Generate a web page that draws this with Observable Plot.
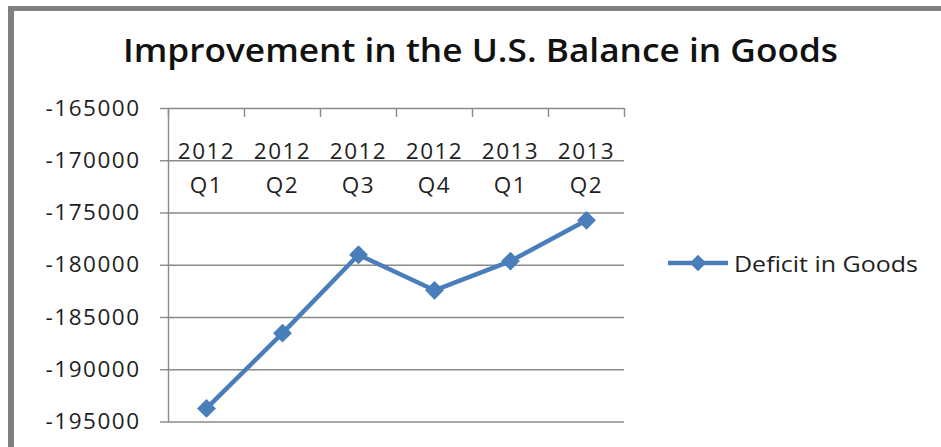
<!DOCTYPE html>
<html>
<head>
<meta charset="utf-8">
<script src="https://cdn.jsdelivr.net/npm/d3@7"></script>
<script src="https://cdn.jsdelivr.net/npm/@observablehq/plot@0.6"></script>
<style>
  html, body { margin: 0; padding: 0; background: #fff; }
  #chart { position: relative; width: 941px; height: 447px; overflow: hidden; background: #fff; }
  #chart > * { position: absolute; left: 0; top: 0; }
  #frame {
    left: 8px; top: 6px; width: 960px; height: 460px;
    border-top: 5px solid #7f7f7f; border-left: 6px solid #7f7f7f;
    box-sizing: border-box;
  }
</style>
</head>
<body>
<div id="chart"></div>
<script>
// U.S. goods balance by quarter (millions of dollars)
const years = ["2012", "2012", "2012", "2012", "2013", "2013"];
const quarters = ["Q1", "Q2", "Q3", "Q4", "Q1", "Q2"];
const deficit = [-193700, -186500, -179000, -182400, -179600, -175700];
const yTicks = [-195000, -190000, -185000, -180000, -175000, -170000, -165000];
const seriesName = "Deficit in Goods";
const title = "Improvement in the U.S. Balance in Goods";

const blue = "#4a7ebb";
const grid = "#8a8a8a";
const ink = "#1e1e1e";

const rows = deficit.map((v, i) => ({pos: i + 0.5, value: v, year: years[i], quarter: quarters[i]}));
const slots = d3.range(quarters.length + 1);

const W = 941, H = 447;
const mTop = 108, mBottom = 25.5, mLeft = 168, mRight = 317;
const innerH = H - mTop - mBottom;

const plot = Plot.plot({
  width: W,
  height: H,
  marginTop: mTop,
  marginBottom: mBottom,
  marginLeft: mLeft,
  marginRight: mRight,
  style: "font-family: 'Open Sans', sans-serif; font-size: 22px; letter-spacing: 1.5px; background: transparent; overflow: visible;",
  x: {type: "linear", domain: [0, quarters.length], axis: null},
  y: {domain: [yTicks[0], yTicks[yTicks.length - 1]], axis: null},
  marks: [
    Plot.gridY(yTicks, {stroke: grid, strokeOpacity: 1, strokeWidth: 1.4}),
    Plot.axisY({
      ticks: yTicks,
      tickSize: 8,
      tickPadding: 20,
      tickFormat: d => String(d),
      label: null,
      stroke: grid,
      strokeWidth: 1.4,
      fill: ink,
      fontSize: 22.5
    }),
    Plot.ruleX([0], {stroke: grid, strokeWidth: 1.4}),
    Plot.ruleX(slots, {x: d => d, stroke: grid, strokeWidth: 1.4, insetBottom: innerH - 9}),
    Plot.text(rows, {x: "pos", text: "year", frameAnchor: "top", lineAnchor: "bottom", dy: 50, fill: ink, fontSize: 22.5}),
    Plot.text(rows, {x: "pos", text: "quarter", frameAnchor: "top", lineAnchor: "bottom", dy: 84, fill: ink, fontSize: 22.5}),
    Plot.line(rows, {x: "pos", y: "value", stroke: blue, strokeWidth: 4.5, strokeLinejoin: "miter"}),
    Plot.dot(rows, {x: "pos", y: "value", symbol: "diamond2", r: 8.5, fill: blue, stroke: "none"})
  ]
});

const chart = document.getElementById("chart");
chart.appendChild(plot);

// Title and legend overlay
const ns = "http://www.w3.org/2000/svg";
const over = document.createElementNS(ns, "svg");
over.setAttribute("width", W);
over.setAttribute("height", H);
over.style.pointerEvents = "none";

const t = document.createElementNS(ns, "text");
t.setAttribute("x", 480.5);
t.setAttribute("y", 61.5);
t.setAttribute("text-anchor", "middle");
t.setAttribute("font-family", "'Open Sans', sans-serif");
t.setAttribute("font-weight", "600");
t.setAttribute("font-size", 32.5);
t.setAttribute("fill", "#111");
t.setAttribute("textLength", 715);
t.setAttribute("lengthAdjust", "spacingAndGlyphs");
t.textContent = title;
over.appendChild(t);

const lg = document.createElementNS(ns, "g");
const ln = document.createElementNS(ns, "line");
ln.setAttribute("x1", 668); ln.setAttribute("x2", 728);
ln.setAttribute("y1", 263); ln.setAttribute("y2", 263);
ln.setAttribute("stroke", blue); ln.setAttribute("stroke-width", 4.5);
lg.appendChild(ln);
const dm = document.createElementNS(ns, "path");
dm.setAttribute("d", d3.symbol(d3.symbolDiamond2, Math.PI * 7.5 * 7.5)());
dm.setAttribute("transform", "translate(698,263)");
dm.setAttribute("fill", blue);
lg.appendChild(dm);
const lt = document.createElementNS(ns, "text");
lt.setAttribute("x", 734);
lt.setAttribute("y", 271.5);
lt.setAttribute("font-family", "'Open Sans', sans-serif");
lt.setAttribute("font-size", 22);
lt.setAttribute("fill", ink);
lt.setAttribute("textLength", 184);
lt.setAttribute("lengthAdjust", "spacingAndGlyphs");
lt.textContent = seriesName;
lg.appendChild(lt);
over.appendChild(lg);
chart.appendChild(over);

const frame = document.createElement("div");
frame.id = "frame";
chart.appendChild(frame);
</script>
</body>
</html>
